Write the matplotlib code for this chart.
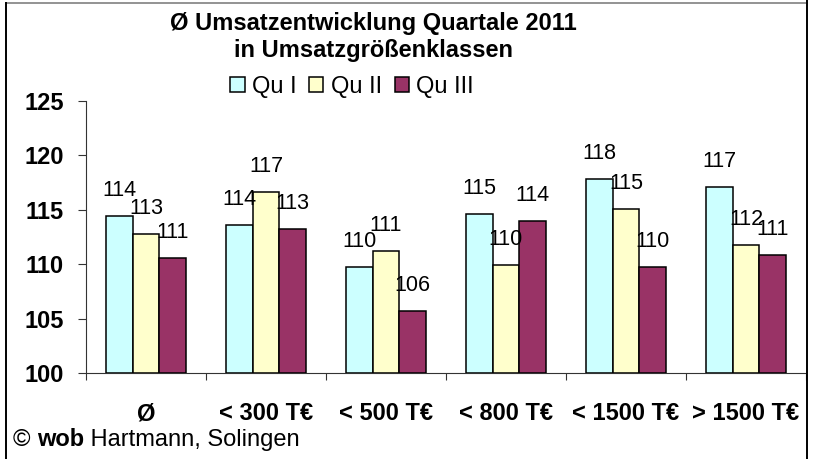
import matplotlib
matplotlib.use("Agg")
import matplotlib.pyplot as plt
from matplotlib.lines import Line2D
import numpy as np

categories = ["Ø", "< 300 T€", "< 500 T€", "< 800 T€", "< 1500 T€", "> 1500 T€"]
series_names = ["Qu I", "Qu II", "Qu III"]
qu1 = [114.4, 113.6, 109.7, 114.6, 117.8, 117.1]
qu2 = [112.8, 116.6, 111.2, 109.9, 115.1, 111.8]
qu3 = [110.6, 113.2, 105.7, 114.0, 109.7, 110.8]
colors = ["#CCFFFF", "#FFFFCC", "#993366"]
yticks = [100, 105, 110, 115, 120, 125]

plt.rcParams['font.family'] = ['Liberation Sans', 'DejaVu Sans']

W, H = 816, 459
fig = plt.figure(figsize=(W / 100, H / 100), dpi=100)
fig.patch.set_facecolor('white')

ax_l, ax_r, ax_t, ax_b = 86, 806, 101, 373
ax = fig.add_axes([ax_l / W, 1 - ax_b / H, (ax_r - ax_l) / W, (ax_b - ax_t) / H])

x = np.arange(len(categories))
bw = 2 / 9
for i, (vals, name, c) in enumerate(zip([qu1, qu2, qu3], series_names, colors)):
    xs = x + (i - 1) * bw
    ax.bar(xs, np.array(vals) - 100, bottom=100, width=bw, color=c,
           edgecolor='black', linewidth=1.1, label=name, zorder=3)
    for xi, v in zip(xs, vals):
        ax.annotate(f"{v:.0f}", (xi, v), xytext=(0, 14.4), textcoords='offset points',
                    ha='center', va='baseline', fontsize=15.5, color='black', zorder=5)

ax.set_xlim(-0.5, len(categories) - 0.5)
ax.set_ylim(100, 125)
ax.set_yticks(yticks)
ax.set_yticklabels([str(t) for t in yticks], fontsize=17, fontweight='bold')
ax.tick_params(axis='y', direction='out', length=5.8, width=0.8, pad=10, colors='#333333',
               labelcolor='black')

ax.set_xticks(x)
ax.set_xticklabels(categories, fontsize=17, fontweight='bold')
ax.tick_params(axis='x', which='major', length=0, pad=21)
ax.set_xticks(np.arange(-0.5, len(categories)), minor=True)
ax.tick_params(axis='x', which='minor', direction='out', length=5.2, width=0.8, color='#333333')

for s in ['top', 'right']:
    ax.spines[s].set_visible(False)
for s in ['left', 'bottom']:
    ax.spines[s].set_color('#333333')
    ax.spines[s].set_linewidth(0.8)
ax.set_facecolor('white')

# Title
fig.text(373 / W, 1 - 30 / H, "Ø Umsatzentwicklung Quartale 2011", ha='center', va='baseline',
         fontsize=17, fontweight='bold')
fig.text(373 / W, 1 - 57 / H, "in Umsatzgrößenklassen", ha='center', va='baseline',
         fontsize=17, fontweight='bold')

# Legend
fig.legend(loc='center', bbox_to_anchor=(352 / W, 1 - 87 / H), ncol=3, frameon=False,
           fontsize=17, handlelength=0.6, handleheight=0.6, handletextpad=0.3,
           columnspacing=0.55, borderpad=0)

# Footer
fig.canvas.draw()
r = fig.canvas.get_renderer()
fy = 1 - 446 / H
xpos = 13
for txt, wgt in [("© ", 'normal'), ("wob", 'bold'), (" Hartmann, Solingen", 'normal')]:
    t = fig.text(xpos / W, fy, txt, ha='left', va='baseline', fontsize=17, fontweight=wgt)
    bb = t.get_window_extent(renderer=r)
    xpos += bb.width

# Borders
fig.add_artist(Line2D([6 / W, 807 / W], [1 - 3 / H, 1 - 3 / H], color='#808080', lw=1.2,
                      transform=fig.transFigure))
fig.add_artist(Line2D([6 / W, 6 / W], [0, 1 - 3 / H], color='black', lw=1.4,
                      transform=fig.transFigure))
fig.add_artist(Line2D([807 / W, 807 / W], [0, 1], color='black', lw=1.4,
                      transform=fig.transFigure))

fig.savefig("out.png", dpi=100)
